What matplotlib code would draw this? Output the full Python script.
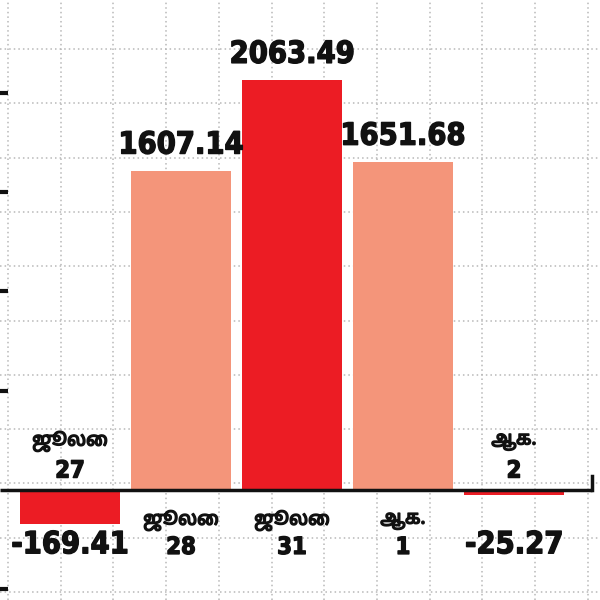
import numpy as np
import matplotlib
matplotlib.use("Agg")
import matplotlib.pyplot as plt
import matplotlib.patheffects as pe

# === Data ===
months = ["ஜூலை", "ஜூலை", "ஜூலை", "ஆக.", "ஆக."]
days = ["27", "28", "31", "1", "2"]
values = [-169.41, 1607.14, 2063.49, 1651.68, -25.27]
value_labels = ["-169.41", "1607.14", "2063.49", "1651.68", "-25.27"]
bar_colors = ["#ec1c24", "#f4957a", "#ec1c24", "#f4957a", "#ec1c24"]

num_font = ["DejaVu Sans"]
tamil_font = ["Noto Sans Tamil", "Lohit Tamil", "Noto Sans", "DejaVu Sans"]

fig = plt.figure(figsize=(6, 6), dpi=100)
ax = fig.add_axes([0, 0, 1, 1])

# px -> data: bar spacing 111 px, zero at 490 px, 500 units ~ 99.4 px
ax.set_xlim(-70 / 111, 530 / 111)
ax.set_ylim(-110 / 0.1987, 490 / 0.1987)
ax.axis("off")

# === dotted grid (not tied to the ticks) ===
for gx in np.arange(8, 600, 52.7):
    ax.axvline(ax.get_xlim()[0] + gx / 600 * np.diff(ax.get_xlim())[0],
               color="#b8b8b8", lw=1.1, ls=(0, (1, 2)), zorder=0)
for gy in np.arange(49, 600, 54.3):
    ax.axhline(ax.get_ylim()[1] - gy / 600 * np.diff(ax.get_ylim())[0],
               color="#b8b8b8", lw=1.1, ls=(0, (1, 2)), zorder=0)

x = np.arange(len(values))
ax.bar(x, values, width=0.9, color=bar_colors, zorder=2)

# zero line + small end tick, left axis ticks
ax.plot([0, 592 / 600], [1 - 490 / 600] * 2,
        transform=ax.transAxes, color="#111111", lw=2.5, zorder=3,
        solid_capstyle="butt")
ax.plot([592 / 600] * 2, [1 - 490 / 600, 1 - 476 / 600],
        transform=ax.transAxes, color="#111111", lw=2.5, zorder=3)
for t in [-500, 500, 1000, 1500, 2000]:
    ax.plot([0, 8 / 600], [t, t], transform=ax.get_yaxis_transform(),
            color="#111111", lw=3, zorder=3, solid_capstyle="butt")

# === labels ===
heavy = [pe.withStroke(linewidth=1.0, foreground="#111111")]
big = dict(fontsize=22, fontweight="bold", family=num_font,
           fontstretch="condensed", color="#111111", zorder=4,
           path_effects=heavy)
day_kw = dict(fontsize=17, fontweight="bold", family=num_font,
              fontstretch="condensed", color="#111111", zorder=4, ha="center",
              path_effects=heavy)
mon_kw = dict(fontsize=13.5, fontweight="bold", family=tamil_font,
              color="#111111", zorder=4, ha="center", va="center",
              path_effects=[pe.withStroke(linewidth=1.1, foreground="#111111")])

for i, (v, lab, m, d) in enumerate(zip(values, value_labels, months, days)):
    if v >= 0:
        ax.annotate(lab, (i, v), xytext=(0, 8), textcoords="offset points",
                    ha="center", va="bottom", **big)
        ax.annotate(m, (i, 0), xytext=(0, -22), textcoords="offset points", **mon_kw)
        ax.annotate(d, (i, 0), xytext=(0, -41), textcoords="offset points",
                    va="center", **day_kw)
    else:
        ax.annotate(lab, (i, 0), xytext=(0, -29), textcoords="offset points",
                    ha="center", va="top", **big)
        ax.annotate(m, (i, 0), xytext=(0, 35), textcoords="offset points", **mon_kw)
        ax.annotate(d, (i, 0), xytext=(0, 14), textcoords="offset points",
                    va="center", **day_kw)

fig.savefig("out.png", dpi=100, facecolor="white")
